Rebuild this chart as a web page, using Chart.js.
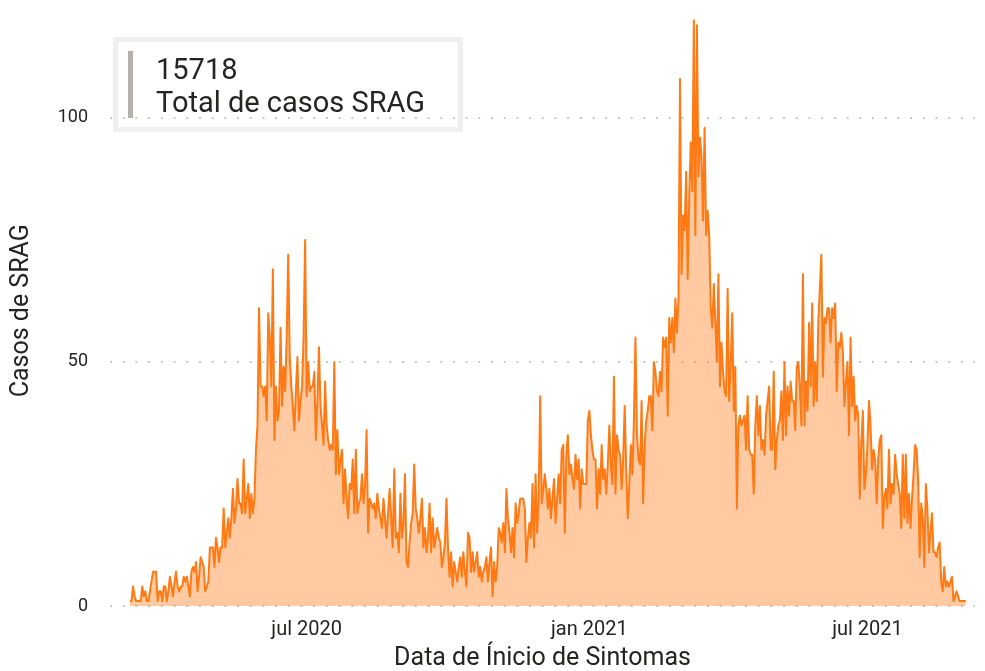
<!DOCTYPE html>
<html>
<head>
<meta charset="utf-8">
<script src="https://cdn.jsdelivr.net/npm/chart.js@4.4.1/dist/chart.umd.min.js"></script>
<style>
html,body{margin:0;padding:0;background:#ffffff;}
#wrap{position:relative;width:985px;height:671px;overflow:hidden;}
#c{position:absolute;left:0;top:0;}
#card{position:absolute;left:113px;top:37px;width:350px;height:95px;box-sizing:border-box;border:5px solid #efefef;background:transparent;}
#bar{position:absolute;left:128px;top:51px;width:5px;height:67px;background:#b3b0ad;}
.cardtxt{position:absolute;left:156px;font-family:Roboto,"Noto Sans",sans-serif;color:#252423;font-size:29px;line-height:29px;white-space:nowrap;}
#val{top:55px;}
#lab{top:88px;}
</style>
</head>
<body>
<div id="wrap">
<canvas id="c" width="985" height="671"></canvas>
<div id="card"></div>
<div id="bar"></div>
<div id="val" class="cardtxt"></div>
<div id="lab" class="cardtxt"></div>
</div>
<script>
// ---- data ----
const startDate = '2020-03-08';           // first day of the daily series
const totalCases = 15718;
const cardLabel = 'Total de casos SRAG';
const xTitle = 'Data de Ínicio de Sintomas';
const yTitle = 'Casos de SRAG';
const xTickDates = ['2020-07-01', '2021-01-01', '2021-07-01'];
const xTickLabels = ['jul 2020', 'jan 2021', 'jul 2021'];
const yTickValues = [0, 50, 100];
// daily SRAG cases, from 2020-03-08 to 2021-09-03
const dailyCases = [
1,1,4,2,1,1,1,1,4,2,
3,1,1,3,5,7,7,7,1,3,
3,1,4,4,1,3,6,4,2,5,
7,4,3,4,4,6,5,6,4,2,
7,8,7,9,3,6,10,9,8,3,
4,5,12,12,12,8,14,12,9,12,
12,20,12,15,18,14,18,24,17,20,
26,21,21,19,30,19,22,25,18,23,
19,22,32,37,61,45,45,43,45,38,
60,55,45,69,34,45,38,40,57,41,
49,44,55,72,51,45,41,36,44,51,
38,42,45,55,75,43,50,44,45,45,
48,34,42,53,41,37,33,46,37,34,
32,33,32,50,27,36,27,30,32,21,
28,22,18,25,24,30,19,32,19,21,
22,27,21,25,36,15,22,21,20,21,
18,23,20,18,16,22,18,14,19,24,
18,12,28,14,15,11,23,14,17,27,
9,8,13,17,19,29,20,18,15,18,
22,12,16,11,14,21,11,18,12,14,
16,14,13,8,10,13,22,12,6,11,
4,9,7,5,8,10,6,11,7,4,
15,14,7,11,7,9,11,6,8,5,
7,8,10,5,9,12,2,9,5,8,
16,15,13,17,11,24,18,15,11,16,
10,21,17,19,22,22,22,20,9,14,
17,14,25,12,27,15,22,43,21,24,
27,24,20,24,18,22,26,17,22,27,
21,32,33,15,31,35,27,29,26,24,
31,26,30,20,28,25,25,25,38,40,
35,32,30,30,20,28,23,33,26,28,
23,29,37,29,25,47,23,35,32,31,
24,30,41,28,18,25,33,27,38,55,
35,30,29,42,21,33,38,40,43,43,
36,50,48,44,43,48,44,55,53,55,
39,59,54,59,52,63,56,63,108,68,
80,77,89,67,84,95,85,120,76,119,
88,96,92,79,98,76,81,76,61,57,
66,58,50,68,45,54,48,44,43,65,
42,50,60,40,49,20,37,39,37,38,
39,32,43,32,31,31,23,37,43,35,
41,32,34,31,39,42,45,32,32,48,
28,34,37,38,44,34,50,35,45,39,
46,42,42,36,49,50,45,37,68,37,
46,40,58,45,62,41,50,42,58,65,
72,47,59,58,61,61,54,61,59,62,
44,54,53,56,52,41,46,50,35,55,
41,47,38,41,39,22,33,40,24,27,
33,42,37,28,32,30,21,30,34,35,
16,22,24,20,32,21,25,23,31,27,
25,23,16,31,18,31,17,23,16,22,
27,33,32,26,10,21,18,8,25,20,
11,15,19,11,11,10,12,13,5,3,
8,4,5,4,5,6,1,2,3,2,
1,1,1,1,1
];

// ---- helpers ----
const DAY = 86400000;
function dayIndex(d) {
  const a = new Date(startDate + 'T00:00:00Z').getTime();
  const b = new Date(d + 'T00:00:00Z').getTime();
  return Math.round((b - a) / DAY);
}
const tickDays = xTickDates.map(dayIndex);

document.getElementById('val').textContent = String(totalCases);
document.getElementById('lab').textContent = cardLabel;

const textColor = '#252423';
const fontFam = 'Roboto, "Noto Sans", sans-serif';

new Chart(document.getElementById('c'), {
  type: 'line',
  data: {
    datasets: [{
      label: yTitle,
      data: dailyCases.map((v, i) => ({x: i, y: v})),
      borderColor: '#FF7A14',
      backgroundColor: 'rgba(255,122,20,0.4)',
      borderWidth: 2,
      borderJoinStyle: 'round',
      pointRadius: 0,
      pointHoverRadius: 0,
      tension: 0,
      fill: 'origin'
    }]
  },
  options: {
    responsive: false,
    animation: false,
    devicePixelRatio: 1,
    layout: {padding: {top: 15.5, right: 10, left: 0, bottom: 0}},
    plugins: {legend: {display: false}, tooltip: {enabled: false}},
    scales: {
      x: {
        type: 'linear',
        min: -13,
        max: 550,
        afterFit: (s) => { s.height = 65; s.paddingLeft = 0; s.paddingRight = 0; },
        afterBuildTicks: (s) => { s.ticks = tickDays.map(v => ({value: v})); },
        grid: {display: false, drawTicks: false},
        border: {display: false},
        ticks: {
          autoSkip: false,
          maxRotation: 0,
          padding: 12,
          color: textColor,
          font: {family: fontFam, size: 20},
          callback: (v, i) => xTickLabels[i]
        },
        title: {
          display: true,
          text: xTitle,
          color: textColor,
          font: {family: fontFam, size: 25, lineHeight: 1},
          padding: {top: 0, bottom: 0}
        }
      },
      y: {
        min: 0,
        max: 121,
        afterFit: (s) => { s.width = 110; s.paddingTop = 0; s.paddingBottom = 0; },
        afterBuildTicks: (s) => { s.ticks = yTickValues.map(v => ({value: v})); },
        grid: {display: true, drawTicks: false, color: '#c8c6c4', lineWidth: 2},
        border: {display: false, dash: [2, 10.7]},
        ticks: {
          padding: 22,
          color: textColor,
          font: {family: fontFam, size: 18}
        },
        title: {
          display: true,
          text: yTitle,
          color: textColor,
          font: {family: fontFam, size: 25, lineHeight: 1},
          padding: {top: 9, bottom: 0}
        }
      }
    }
  }
});
</script>
</body>
</html>
